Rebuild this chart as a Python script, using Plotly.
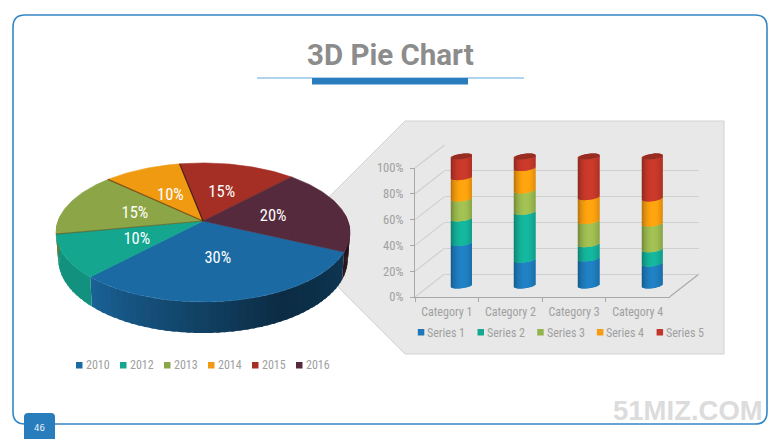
import math
import plotly.graph_objects as go

# ---------- data ----------
years = ["2010", "2012", "2013", "2014", "2015", "2016"]
shares = [30, 10, 15, 10, 15, 20]
pie_colors = ["#1c6aa3", "#14a68f", "#8ca546", "#f09a12", "#a52f24", "#552a3d"]

categories = ["Category 1", "Category 2", "Category 3", "Category 4"]
series_names = ["Series 1", "Series 2", "Series 3", "Series 4", "Series 5"]
series_1 = [33, 20, 21, 17]
series_2 = [19, 37, 11, 11]
series_3 = [15.5, 16.7, 18, 20]
series_4 = [16.5, 17.3, 18.5, 19.5]
series_5 = [16, 9, 31.5, 32.5]
tick_values = [0, 20, 40, 60, 80, 100]
tick_labels = ["0%", "20%", "40%", "60%", "80%", "100%"]
bar_colors = ["#2080c2", "#14b59d", "#a0bf52", "#ffa30f", "#c93a2b"]
legend_colors = ["#1f77b8", "#14a892", "#93b34c", "#f79c12", "#c0362a"]

TITLE = "3D Pie Chart"
PAGE = "46"
MARK = "51MIZ.COM"

# ---------- layout helpers ----------
W, H = 780, 439
NARROW = "Roboto Condensed, Liberation Sans Narrow, Roboto"
GREY = "#a0a0a0"
def dom_x(a, b): return [a / W, b / W]
def dom_y(top, bottom): return [1 - bottom / H, 1 - top / H]
def rgb(c): return [int(c[i:i + 2], 16) for i in (1, 3, 5)]
def shade(c, f):
    return "rgb(%d,%d,%d)" % tuple(min(255, round(v * f)) for v in rgb(c))

fig = go.Figure()

# ---------- perspective pie (angles come from the shares) ----------
CX, CY, A, B, K, DEPTH = 203, 221, 145, 67.6, 0.165, 26
START = -25.2
def project(theta, r=1.0, drop=False):
    u, v = r * math.cos(math.radians(theta)), r * math.sin(math.radians(theta))
    s = 1 / (1 + K * v)
    x, y = A * u * s, -B * v * s
    if drop:
        return CX + x * 0.985, CY + y + DEPTH * s
    return CX + x, CY + y

edges = [START]
for sh in shares:
    edges.append(edges[-1] - sh * 3.6)

def side_factor(i, p):
    if i == 0:
        return 0.92 - 0.78 * p if p < 0.65 else 0.413 + 0.09 * (p - 0.65) / 0.35
    return {1: 0.88, 2: 0.75, 3: 0.75, 4: 0.7, 5: 0.5}[i]

# sides first
for i, col in enumerate(pie_colors):
    a0, a1 = edges[i], edges[i + 1]
    n = max(1, int(abs(a1 - a0) / 2.5))
    for j in range(n):
        t0 = a1 + (a0 - a1) * j / n
        t1 = a1 + (a0 - a1) * (j + 1) / n
        if math.sin(math.radians((t0 + t1) / 2)) > 0.08:
            continue
        p = ((t0 + t1) / 2 - a1) / (a0 - a1)
        ext = min(t1 + 1.2, a0)
        pts = [project(t0), project(ext), project(ext, drop=True), project(t0, drop=True)]
        pts.append(pts[0])
        c = shade(col, side_factor(i, p))
        fig.add_trace(go.Scatter(x=[q[0] for q in pts], y=[q[1] for q in pts], mode="lines",
                                 fill="toself", fillcolor=c, line=dict(color=c, width=0),
                                 hoverinfo="skip", showlegend=False, xaxis="x", yaxis="y"))
# top surface
for i, col in enumerate(pie_colors):
    a0, a1 = edges[i], edges[i + 1]
    n = int(abs(a1 - a0))
    arc = [project(a0 + (a1 - a0) * j / n) for j in range(n + 1)]
    pts = [(CX, CY)] + arc + [(CX, CY)]
    fig.add_trace(go.Scatter(x=[q[0] for q in pts], y=[q[1] for q in pts], mode="lines",
                             fill="toself", fillcolor=col, line=dict(color=col, width=0.6),
                             name=years[i], text=["%s: %d%%" % (years[i], shares[i])] * len(pts),
                             hoverinfo="text", showlegend=False, xaxis="x", yaxis="y"))
# shadowed slice edges
for idx, op in ((2, 0.35), (3, 0.55), (4, 0.8)):
    e = project(edges[idx])
    fig.add_trace(go.Scatter(x=[CX, e[0]], y=[CY, e[1]], mode="lines",
                             line=dict(color="rgba(45,25,15,%s)" % op, width=1.2),
                             hoverinfo="skip", showlegend=False, xaxis="x", yaxis="y"))
# slice labels
lab = [project((edges[i] + edges[i + 1]) / 2, 0.5) for i in range(len(shares))]
fig.add_trace(go.Scatter(x=[q[0] for q in lab], y=[q[1] + 2 for q in lab], mode="text",
                         text=["%d%%" % s for s in shares], hoverinfo="skip", showlegend=False,
                         textfont=dict(family=NARROW, size=16.5, color="white"),
                         xaxis="x", yaxis="y"))

# ---------- bar chart axes ----------
FX0, FX1, FY0, FY100 = 415, 669.5, 297, 168          # front plane
DX, DY = 29.5, 23                                    # depth of the box

# invisible anchor traces so the axes are drawn
fig.add_trace(go.Scatter(x=[0, 3], y=[0, 100], mode="none", hoverinfo="skip", showlegend=False,
                         xaxis="x2", yaxis="y2"))
fig.add_trace(go.Scatter(x=categories, y=[0, 100, 0, 100], mode="none", hoverinfo="skip",
                         showlegend=False, xaxis="x3", yaxis="y3"))

# ---------- cylinders: stacked, each drawn as narrow shaded bars ----------
series = [series_1, series_2, series_3, series_4, series_5]
PX_PER_UNIT = (FY0 - FY100) / 100
CAT_PX = (FX1 - FX0) / len(categories)
HALF = 10.3 / CAT_PX          # half cylinder width in category units
RY, TILT = 2.7 / PX_PER_UNIT, 1.3 / PX_PER_UNIT
STRIPS = 21
offs = [-1 + 2 * (j + 0.5) / STRIPS for j in range(STRIPS)]
def front(t): return -RY * math.sqrt(max(0, 1 - t * t)) + TILT * t
def back(t): return RY * math.sqrt(max(0, 1 - t * t)) + TILT * t
def light(t):
    return 0.66 + 0.36 * (1 - ((t - 0.15) / 1.15) ** 2) ** 0.7

strip_w = 2 * HALF / STRIPS * 1.3
for s, vals in enumerate(series):
    xs, bases, hs, cols = [], [], [], []
    for c, v in enumerate(vals):
        below = sum(series[k][c] for k in range(s))
        for t in offs:
            xs.append(c + t * HALF)
            bases.append(below + front(t))
            hs.append(v)
            cols.append(shade(bar_colors[s], light(t)))
    fig.add_trace(go.Bar(x=xs, y=hs, base=bases, width=strip_w, name=series_names[s],
                         marker=dict(color=cols, line=dict(width=0)), cliponaxis=False,
                         showlegend=False, xaxis="x4", yaxis="y4"))
# top caps
xs, bases, hs = [], [], []
for c in range(len(categories)):
    total = sum(series[k][c] for k in range(len(series)))
    for t in offs:
        xs.append(c + t * HALF)
        bases.append(total + front(t))
        hs.append(back(t) - front(t))
fig.add_trace(go.Bar(x=xs, y=hs, base=bases, width=strip_w,
                     marker=dict(color=shade(bar_colors[4], 0.76), line=dict(width=0)),
                     cliponaxis=False, hoverinfo="skip", showlegend=False, xaxis="x4", yaxis="y4"))

# ---------- decoration ----------
shapes = []
annots = []
def path_shape(path, fill, line=None, lw=0, layer="below"):
    shapes.append(dict(type="path", path=path, xref="x", yref="y", fillcolor=fill, layer=layer,
                       line=dict(color=line or fill, width=lw)))
def rect(x0, y0, x1, y1, fill, layer="above"):
    shapes.append(dict(type="rect", x0=x0, y0=y0, x1=x1, y1=y1, xref="x", yref="y", layer=layer,
                       fillcolor=fill, line=dict(width=0)))
def seg(x0, y0, x1, y1, color, w, layer="below"):
    shapes.append(dict(type="line", x0=x0, y0=y0, x1=x1, y1=y1, xref="x", yref="y", layer=layer,
                       line=dict(color=color, width=w)))
def text(x, y, s, size, color, family=NARROW, anchor="left", weight=None):
    annots.append(dict(x=x, y=y, xref="x", yref="y", text=s, showarrow=False, xanchor=anchor,
                       yanchor="middle", font=dict(family=family, size=size, color=color,
                                                   weight=weight or "normal")))

# page frame
r = 12
path_shape("M%d,%d H%d Q%d,%d %d,%d V%d Q%d,%d %d,%d H%d Q%d,%d %d,%d V%d Q%d,%d %d,%d Z" % (
    13 + r, 15, 767 - r, 767, 15, 767, 15 + r, 424 - r, 767, 424, 767 - r, 424,
    13 + r, 13, 424, 13, 424 - r, 15 + r, 13, 15, 13 + r, 15), "rgba(0,0,0,0)", "#3487c6", 1.6)
# title rule
rect(257, 77.6, 524, 78.6, "#62a9de")
rect(312, 78, 468, 84.5, "#2a7dbc")
text(390, 55, TITLE, 29.5, "#8c8c8c", "Roboto", "center", "bold")
# page tab
path_shape("M24,439 V417 Q24,413 28,413 H51 Q55,413 55,417 V439 Z", "#2a7dbc", layer="above")
text(39.5, 427.5, PAGE, 9, "#e8f1f8", "DejaVu Sans Mono", "center")
# watermark
text(764.5, 410, MARK, 27.5, "#dcdcdc", "Liberation Sans", "right", "bold")
# grey panel
path_shape("M405,121 H724 V354 H405 L300,249 V226 Z", "#e8e8e8", "#d2d2d2", 1)
# box side lines
for v in tick_values:
    yf = FY0 - v * PX_PER_UNIT
    seg(FX0, yf, FX0 + DX, yf - DY, "#d0d0d0", 1.2)
seg(FX1, FY0, FX1 + DX, FY0 - DY, "#a8a8a8", 1.1)
# pie legend
for i, name in enumerate(years):
    x = 76 + 44 * i
    rect(x, 362, x + 6.5, 368.5, pie_colors[i], layer="below")
    text(x + 8, 365, name, 12, GREY)
# bar legend
for i, name in enumerate(series_names):
    x = 417.8 + 59.7 * i
    rect(x, 329, x + 6.5, 335.5, legend_colors[i], layer="below")
    text(x + 7.5, 332.5, name, 12, GREY)

# the cylinder axis has head-room so the curved ends are not clamped to its range
PAD = 6
mid_top = FY100 - DY / 2 - PAD * PX_PER_UNIT
mid_bot = FY0 - DY / 2 + PAD * PX_PER_UNIT

hidden = dict(visible=False, fixedrange=True, automargin=False)
fig.update_layout(
    template="none",
    width=W, height=H, autosize=False, margin=dict(l=0, r=0, t=0, b=0, pad=0),
    paper_bgcolor="white", plot_bgcolor="rgba(0,0,0,0)", showlegend=False, barmode="overlay",
    shapes=shapes, annotations=annots, hovermode="closest",
    xaxis=dict(hidden, domain=[0, 1], range=[0, W]),
    yaxis=dict(hidden, domain=[0, 1], range=[H, 0]),
    # back wall: gridlines
    xaxis2=dict(hidden, domain=dom_x(FX0 + DX, FX1 + DX), range=[-0.5, 3.5], anchor="y2"),
    yaxis2=dict(domain=dom_y(FY100 - DY, FY0 - DY), range=[0, 100], anchor="x2", tickmode="array",
                tickvals=tick_values, showticklabels=False, ticks="", showline=False, showgrid=True,
                gridcolor="#d0d0d0", gridwidth=1.2, zeroline=True, zerolinecolor="#d0d0d0",
                zerolinewidth=1.2, fixedrange=True, automargin=False),
    # front plane: visible axes
    xaxis3=dict(domain=dom_x(FX0, FX1), type="category", categoryorder="array", categoryarray=categories,
                range=[-0.5, 3.5], anchor="y3", tickson="boundaries", ticks="outside", ticklen=4, tickwidth=1,
                tickcolor="#a8a8a8", showline=True, linecolor="#a8a8a8", linewidth=1.3, showgrid=False,
                ticklabelstandoff=3,
                tickfont=dict(family=NARROW, size=12, color=GREY), fixedrange=True, automargin=False),
    yaxis3=dict(domain=dom_y(FY100, FY0), range=[0, 100], anchor="x3", tickmode="array",
                tickvals=tick_values, ticktext=tick_labels,
                ticks="outside", ticklen=4, tickwidth=1, tickcolor="#a8a8a8", showline=True,
                linecolor="#a8a8a8", linewidth=1.3, showgrid=False, zeroline=False, ticklabelstandoff=4,
                tickfont=dict(family=NARROW, size=12.5, color=GREY), fixedrange=True, automargin=False),
    # mid-depth plane: the cylinders
    xaxis4=dict(hidden, domain=dom_x(FX0 + DX / 2, FX1 + DX / 2), range=[-0.5, 3.5], anchor="y4"),
    yaxis4=dict(hidden, domain=dom_y(mid_top, mid_bot), range=[-PAD, 100 + PAD], anchor="x4"),
)

fig.write_html("out.html", config=dict(displayModeBar=False),
               post_script="document.body.style.margin='0';document.documentElement.style.overflow='hidden';")
